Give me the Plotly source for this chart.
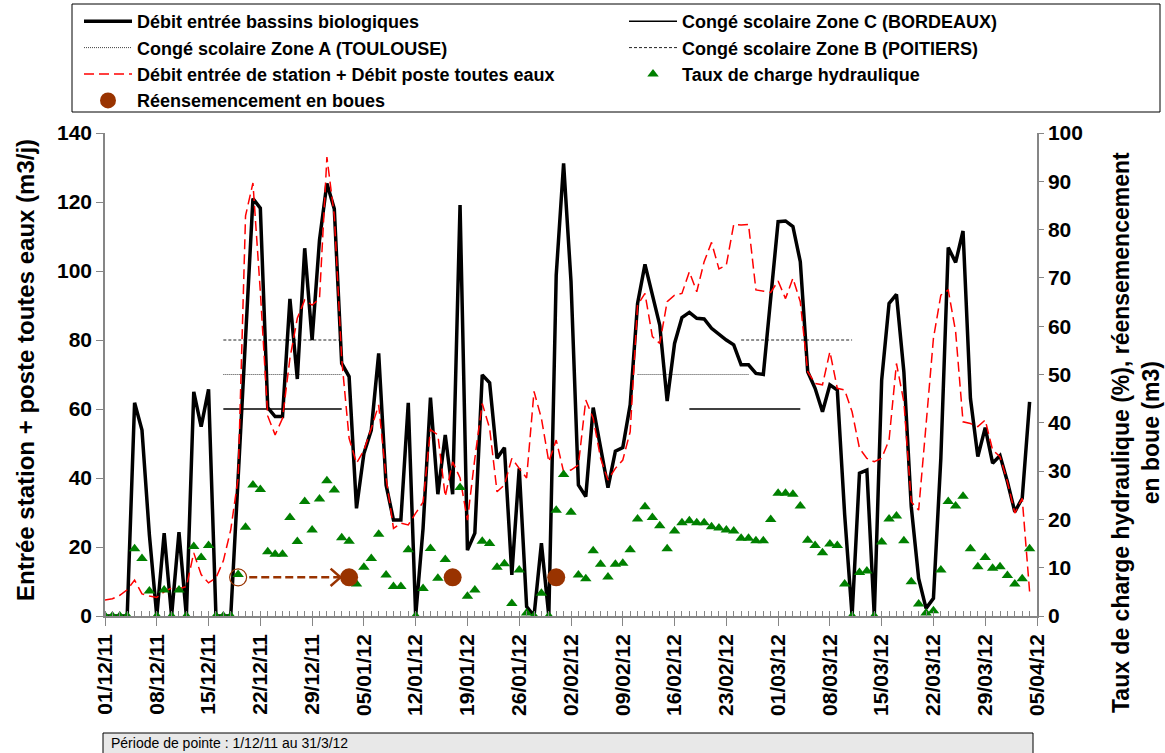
import pandas as pd
import plotly.graph_objects as go

# ---------------- DATA ----------------
START_DATE = "2011-12-01"
N_DAYS = 126
dates = pd.date_range(START_DATE, periods=N_DAYS, freq="D")

# Débit entrée bassins biologiques (m3/j)
debit_bassins = [0, 0, 0, 0, 61.8, 53.9, 23.5, 0, 24, 0, 24.3, 0, 65, 54.9, 65.7, 0, 0, 0,
                 40, 82, 121, 118.2, 60.4, 57.8, 57.8, 91.9, 68.7, 106.6, 80, 109, 125.4, 118,
                 73.2, 69.4, 31.2, 47.1, 53.9, 76.1, 38, 27.8, 27.8, 61.8, 0, 25.4, 63.3, 35.3,
                 52.5, 35.3, 119.1, 19.1, 24, 69.9, 67.6, 45.7, 48.8, 11.9, 42.8, 2.7, 0, 21.1,
                 0, 98.8, 131.2,
                 97, 38, 34.6, 60.4, 48.8, 37.2, 47.8, 48.8, 61.2, 90.6, 101.9, 93, 84.3, 62.3,
                 79, 86.5, 88, 86.3, 86.1, 83.4, 81.6, 80, 78.6, 72.8, 72.8, 70.3, 70, 92, 114.3,
                 114.5, 112.9,
                 102.7, 70.8, 66, 59.2, 67, 65.5, 29.3, 0, 41.4, 42.3, 0, 68.4, 90.6, 93.2, 70.8,
                 31.7, 10.9, 2.2, 5.1, 45.7, 106.8, 102.5, 111.6, 63.1, 46.2, 54.6, 44.3, 46.5,
                 38.9, 30.2, 34.1, 62.1]

# Débit entrée de station + Débit poste toutes eaux (m3/j)
debit_station = [4.6, 5, 6, 7.6, 10.4, 6.4, 5.8, 5.4, 7, 8.1, 7.9, 8.5, 18.3, 12, 9.6, 11, 16,
                 25, 40, 116, 125.5, 94, 58, 52.5, 57.3, 74.7, 86.3, 91.6, 90.1, 92, 133, 116,
                 74.5, 51.5, 44.3, 48, 54.4, 61.2, 40, 25.4, 26.9, 26.4, 29.8, 33, 54, 52.5, 34.6,
                 44.7, 40, 27.8, 45.7, 61.6, 54.4, 36, 38, 45.7, 42.8, 40, 65.1, 57.3, 44.7, 51,
                 41.8,
                 42.3, 43.8, 62.6, 57.3, 45.7, 39.4, 42.8, 45.2, 53.4, 90.1, 93.5, 81, 79, 91.1,
                 93, 93.5, 99.8, 94, 102.7, 108.3, 100.6, 101.7, 113.5, 113.3, 113.5, 94.5, 94.2,
                 93.8, 97.1, 92, 97.9,
                 91.1, 70.8, 67.4, 67, 76.6, 66, 65.5, 59.2, 48.6, 45.7, 44.7, 45.7, 51, 73.2,
                 62.1, 33.1, 30.7, 55.4, 80.5, 93, 94.5, 82.4, 56.3, 55.8, 54.9, 56.8, 48.1, 46.2,
                 38.9, 29.8, 34.1, 7.1]

# Taux de charge hydraulique (%)
taux_charge = [0, 0, 0, 0, 13.9, 11.9, 5.2, 0, 5.4, 0, 5.4, 0, 14.4, 12.1, 14.6, 0, 0, 0, 8.6,
               18.4, 27.1, 26.2, 13.3, 12.8, 12.8, 20.4, 15.4, 23.7, 17.8, 24.2, 28, 26.1,
               16.2, 15.5, 6.6, 10.1, 11.9, 16.9, 8.5, 6.1, 6.1, 13.7, 0, 5.7, 14, 7.8, 11.7,
               8.1, 26.6, 4.1, 5.4, 15.5, 15, 10.1, 10.8, 2.6, 9.5, 0.6, 0, 4.7, 0, 21.9, 29.3,
               21.5, 8.5, 7.7, 13.5, 10.7, 8.1, 10.7, 10.9, 13.7, 20.1, 22.6, 20.4, 18.7, 13.9,
               17.6, 19.3, 19.7, 19.3, 19.3, 18.5, 18.2, 17.8, 17.6, 16.1, 16.1, 15.6, 15.6, 20,
               25.4, 25.4, 25.2,
               22.8, 15.7, 14.6, 13.1, 14.9, 14.6, 6.6, 0, 9, 9.3, 0, 15.3, 20.1, 20.7, 15.6,
               7.1, 2.5, 0.6, 1.1, 9.5, 23.7, 22.8, 24.8, 13.9, 10.2, 12.1, 9.9, 10.2, 8.4, 6.6,
               7.7, 13.9]

# Réensemencement en boues (m3)
reens_planned_date = ["2011-12-19"]
reens_planned_val = [8]
reens_dates = ["2012-01-03", "2012-01-17", "2012-01-31"]
reens_vals = [8, 8, 8]

# Congés scolaires (start, end) and display level on the left axis
conge_c = [("2011-12-17", "2012-01-02"), ("2012-02-18", "2012-03-04")]
conge_a = [("2011-12-17", "2012-01-02"), ("2012-02-11", "2012-02-26")]
conge_b = [("2011-12-17", "2012-01-02"), ("2012-02-25", "2012-03-11")]
level_c, level_a, level_b = 60, 70, 80

# Axis labels / texts
left_title = "Entrée station + poste toutes eaux (m3/j)"
right_title = "Taux de charge hydraulique (%), réensemencement<br>en boue (m3)"
periode_text = "Période de pointe : 1/12/11 au 31/3/12"
x_range = ["2011-12-01", "2012-04-05"]

FONT = "Liberation Sans, Arial, sans-serif"
BROWN = "#993300"
GREEN = "#008000"
AXIS_GRAY = "#868686"

# plot-area geometry in pixels (used to place paper-referenced elements)
W, H = 1165, 753
ML, MR, MT, MB = 105, 128, 133, 137
PW, PH = W - ML - MR, H - MT - MB


def px_x(px):
    return (px - ML) / PW


def px_y(py):
    return (H - MB - py) / PH


def seg_xy(segments, level):
    xs, ys = [], []
    for s, e in segments:
        xs += [s, e, None]
        ys += [level, level, None]
    return xs, ys


fig = go.Figure()

# Vacation lines
xc, yc = seg_xy(conge_c, level_c)
xa, ya = seg_xy(conge_a, level_a)
xb, yb = seg_xy(conge_b, level_b)
fig.add_trace(go.Scatter(x=xc, y=yc, mode="lines", name="Congé scolaire Zone C (BORDEAUX)",
                         line=dict(color="black", width=1.5), legend="legend2", legendrank=1))
fig.add_trace(go.Scatter(x=xa, y=ya, mode="lines", name="Congé scolaire Zone A (TOULOUSE)",
                         line=dict(color="#444444", width=1, dash="1px,1px"),
                         legend="legend", legendrank=2))
fig.add_trace(go.Scatter(x=xb, y=yb, mode="lines", name="Congé scolaire Zone B (POITIERS)",
                         line=dict(color="#222222", width=1, dash="3px,2px"),
                         legend="legend2", legendrank=2))

# Main flows
fig.add_trace(go.Scatter(x=dates, y=debit_bassins, mode="lines",
                         name="Débit entrée bassins biologiques",
                         line=dict(color="black", width=3.5), legend="legend", legendrank=1))
fig.add_trace(go.Scatter(x=dates, y=debit_station, mode="lines",
                         name="Débit entrée de station + Débit poste toutes eaux",
                         line=dict(color="#FF0000", width=1.5, dash="10px,5px"),
                         legend="legend", legendrank=3))

# Right axis series
fig.add_trace(go.Scatter(x=dates, y=taux_charge, mode="markers", yaxis="y2",
                         name="Taux de charge hydraulique",
                         marker=dict(symbol="triangle-up", size=10, color=GREEN),
                         legend="legend2", legendrank=3))

# Arrow from planned to actual re-seeding (derived from circle dates)
p0 = pd.Timestamp(reens_planned_date[0])
p1 = pd.Timestamp(reens_dates[0])
shaft_start = p0 + pd.Timedelta(hours=36)
tip = p1 - pd.Timedelta(hours=28)
head_back = tip - pd.Timedelta(hours=32)
yv = reens_planned_val[0]
fig.add_trace(go.Scatter(x=[shaft_start, tip], y=[yv, yv], mode="lines", yaxis="y2",
                         line=dict(color=BROWN, width=2.5, dash="8px,4px"),
                         showlegend=False, hoverinfo="skip"))
fig.add_trace(go.Scatter(x=[head_back, tip, head_back], y=[yv + 1.8, yv, yv - 1.8],
                         mode="lines", yaxis="y2", line=dict(color=BROWN, width=2.5),
                         showlegend=False, hoverinfo="skip"))

fig.add_trace(go.Scatter(x=reens_planned_date, y=reens_planned_val, mode="markers", yaxis="y2",
                         marker=dict(symbol="circle-open", size=17, color=BROWN,
                                     line=dict(width=1.2, color=BROWN)),
                         showlegend=False))
fig.add_trace(go.Scatter(x=reens_dates, y=reens_vals, mode="markers", yaxis="y2",
                         name="Réensemencement en boues",
                         marker=dict(symbol="circle", size=18, color=BROWN),
                         legend="legend", legendrank=4))

tick_font = dict(family=FONT, size=21, color="black", weight="bold")
legend_font = dict(family=FONT, size=18, color="black", weight="bold")

fig.update_layout(
    width=W, height=H,
    margin=dict(l=ML, r=MR, t=MT, b=MB, autoexpand=False),
    paper_bgcolor="white", plot_bgcolor="white",
    font=dict(family=FONT, color="black"),
    xaxis=dict(
        type="date", range=x_range, tickformat="%d/%m/%y", tick0=START_DATE,
        dtick=7 * 86400000, tickangle=-90, tickfont=tick_font,
        ticks="outside", ticklen=8, tickcolor=AXIS_GRAY, tickwidth=1,
        showline=True, linecolor=AXIS_GRAY, linewidth=1.5, showgrid=False, zeroline=False,
        minor=dict(dtick=86400000, tick0=START_DATE, ticks="inside", ticklen=5,
                   tickcolor=AXIS_GRAY, tickwidth=1, showgrid=False),
    ),
    yaxis=dict(
        range=[0, 140], dtick=20, tickfont=tick_font, ticks="outside", ticklen=7,
        tickcolor=AXIS_GRAY, showline=True, linecolor=AXIS_GRAY, linewidth=1.5,
        showgrid=False, zeroline=False,
    ),
    yaxis2=dict(
        range=[0, 100], dtick=10, overlaying="y", side="right", tickfont=tick_font,
        ticks="outside", ticklen=5, tickcolor=AXIS_GRAY, showline=True, linecolor=AXIS_GRAY,
        linewidth=1.5, showgrid=False, zeroline=False,
    ),
    legend=dict(
        orientation="v", x=px_x(79), y=px_y(3), xanchor="left", yanchor="top",
        font=legend_font, itemwidth=48, bgcolor="rgba(0,0,0,0)", borderwidth=0,
        traceorder="normal", tracegroupgap=0,
    ),
    legend2=dict(
        orientation="v", x=px_x(624), y=px_y(3), xanchor="left", yanchor="top",
        font=legend_font, itemwidth=48, bgcolor="rgba(0,0,0,0)", borderwidth=0,
        traceorder="normal", tracegroupgap=0,
    ),
    showlegend=True,
)

# Legend box
fig.add_shape(type="rect", xref="paper", yref="paper",
              x0=px_x(72), x1=px_x(1160), y0=px_y(112), y1=px_y(4),
              line=dict(color="black", width=1), fillcolor="rgba(0,0,0,0)", layer="below")

# Bottom period box
fig.add_shape(type="rect", xref="paper", yref="paper",
              x0=px_x(103), x1=px_x(1033), y0=px_y(760), y1=px_y(733),
              line=dict(color="black", width=1), fillcolor="#e8e8e8")
fig.add_annotation(text=periode_text, xref="paper", yref="paper",
                   x=px_x(109), y=px_y(743), xanchor="left", yanchor="middle",
                   showarrow=False, font=dict(family=FONT, size=14, color="black"))

# Axis titles
fig.add_annotation(text=left_title, xref="paper", yref="paper", x=px_x(25), y=px_y(370),
                   xanchor="center", yanchor="middle", textangle=-90, showarrow=False,
                   font=dict(family=FONT, size=24, color="black", weight="bold"))
fig.add_annotation(text=right_title, xref="paper", yref="paper", x=px_x(1136), y=px_y(433),
                   xanchor="center", yanchor="middle", textangle=-90, showarrow=False,
                   align="center",
                   font=dict(family=FONT, size=23, color="black", weight="bold"))

fig.write_html("out.html",
               config={"displayModeBar": False},
               post_script="document.body.style.margin='0px';"
                           "document.body.style.overflow='hidden';")
